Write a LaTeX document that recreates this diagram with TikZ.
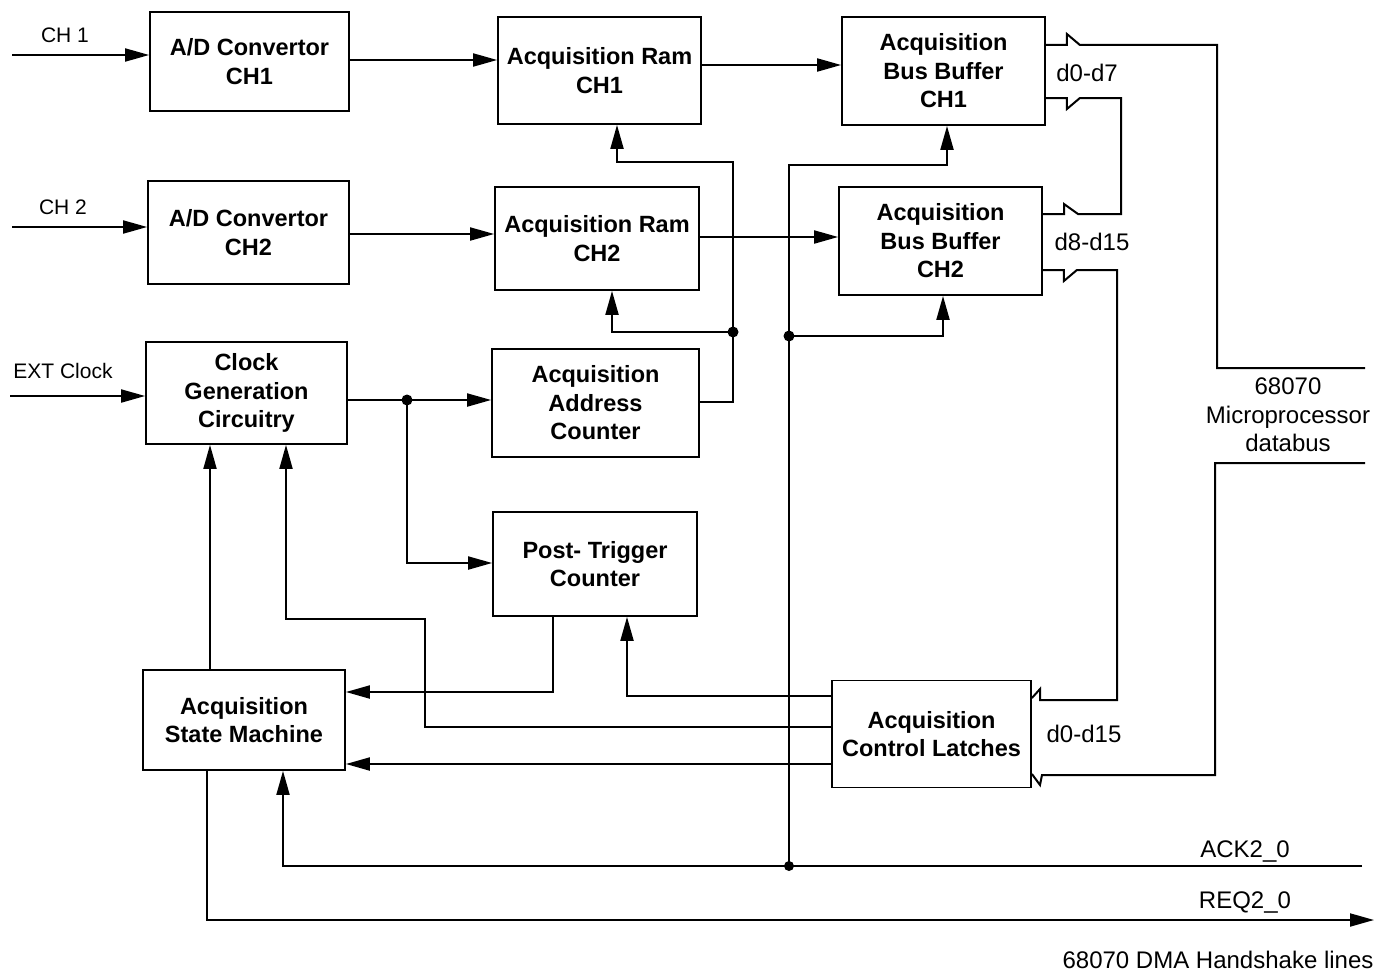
\documentclass[tikz,border=0pt]{standalone}
\usepackage{fontspec}
\setmainfont{Liberation Sans}
\usetikzlibrary{arrows.meta}
\begin{document}
\begin{tikzpicture}[x=1pt,y=-1pt,
  blk/.style={draw,line width=1.8pt,rectangle,inner sep=0pt,align=center,
    font=\bfseries\fontsize{23.5}{28.5}\selectfont},
  wire/.style={line width=2pt},
  arr/.style={wire,-{Triangle[length=24pt,width=13pt]}},
  lbl/.style={font=\fontsize{24}{28.5}\selectfont,inner sep=0pt,align=center},
  slbl/.style={font=\fontsize{21}{26}\selectfont,inner sep=0pt,align=center},
  jdot/.style={circle,fill,inner sep=0pt,minimum size=11pt}]
\useasboundingbox (0,0) rectangle (1389,974);
% blocks
\node[blk,minimum width=199pt,minimum height=99pt]  (AD1)   at (249.5,61.5) {A/D Convertor\\CH1};
\node[blk,minimum width=201pt,minimum height=103pt] (AD2)   at (248.5,232.5) {A/D Convertor\\CH2};
\node[blk,minimum width=201pt,minimum height=102pt] (Clock) at (246.5,393) {Clock\\Generation\\Circuitry};
\node[blk,minimum width=203pt,minimum height=107pt] (RAM1)  at (599.5,70.5) {Acquisition Ram\\CH1};
\node[blk,minimum width=204pt,minimum height=103pt] (RAM2)  at (597,238.5) {Acquisition Ram\\CH2};
\node[blk,minimum width=207pt,minimum height=108pt] (Addr)  at (595.5,403) {Acquisition\\Address\\Counter};
\node[blk,minimum width=204pt,minimum height=104pt] (Post)  at (595,564) {Post- Trigger\\Counter};
\node[blk,minimum width=203pt,minimum height=108pt] (BB1)   at (943.5,71) {Acquisition\\Bus Buffer\\CH1};
\node[blk,minimum width=203pt,minimum height=108pt] (BB2)   at (940.5,241) {Acquisition\\Bus Buffer\\CH2};
\node[blk,minimum width=202pt,minimum height=100pt] (ASM)   at (244,720) {Acquisition\\State Machine};
\node[blk,minimum width=199pt,minimum height=107pt] (ACL)   at (931.5,734) {Acquisition\\Control Latches};
% input labels
\node[slbl] (lch1) at (65,35) {CH 1};
\node[slbl] (lch2) at (63,207) {CH 2};
\node[slbl] (lext) at (63,371) {EXT Clock};
\coordinate (c1) at (12,55);
\coordinate (c2) at (12,227);
\coordinate (c3) at (10,396);
\draw[arr] (c1) -- (c1 -| AD1.west);
\draw[arr] (c2) -- (c2 -| AD2.west);
\draw[arr] (c3) -- (c3 -| Clock.west);
% data path
\draw[arr] (AD1.east |- 0,60) -- (RAM1.west |- 0,60);
\draw[arr] (AD2.east |- 0,234) -- (RAM2.west |- 0,234);
\draw[arr] (RAM1.east |- 0,65) -- (BB1.west |- 0,65);
\draw[arr] (RAM2.east |- 0,237) -- (BB2.west |- 0,237);
% clock distribution
\coordinate (d1) at (407,400);
\draw[wire] (Clock.east |- d1) -- (d1);
\draw[arr] (d1) -- (d1 -| Addr.west);
\draw[arr] (d1) |- (Post.west |- 0,563);
\node[jdot] at (d1) {};
% address counter
\coordinate (d2) at (733,332);
\draw[arr] (Addr.east |- 0,402) -| (733,162) -| (RAM1.south -| 617,0);
\draw[arr] (d2) -| (RAM2.south -| 612,0);
\node[jdot] at (d2) {};
% bus control line
\coordinate (d3) at (789,336);
\coordinate (d4) at (789,866);
\draw[arr] (d4) -- (789,165) -| (BB1.south -| 947,0);
\draw[arr] (d3) -| (BB2.south -| 943,0);
\node[jdot] at (d3) {};
% state machine connections
\draw[arr] (1362,866) -| (ASM.south -| 283,0);
\node[jdot,minimum size=10pt] at (d4) {};
\draw[arr] (ASM.south -| 207,0) |- (1374,920);
\draw[arr] (ASM.north -| 210,0) -- (Clock.south -| 210,0);
\draw[arr] (ACL.west |- 0,727) -| (425,619) -| (Clock.south -| 286,0);
\draw[arr] (Post.south -| 553,0) |- (ASM.east |- 0,692);
\draw[arr] (ACL.west |- 0,696) -| (Post.south -| 627,0);
\draw[arr] (ACL.west |- 0,764) -- (ASM.east |- 0,764);
% data bus lines
\draw[wire] (BB1.east |- 0,45) -- ++(21,0) -- ++(0,-11) -- ++(13,11) -- (1217,45) -- (1217,368) -- (1365,368);
\draw[wire] (BB1.east |- 0,98) -- ++(21,0) -- ++(0,11) -- ++(13,-11) -- (1121,98) -- (1121,214) -- (1078,214) -- (1064,204) -- (1064,214) -- (BB2.east |- 0,214);
\draw[wire] (BB2.east |- 0,270) -- ++(21,0) -- ++(0,11) -- ++(13,-11) -- (1117,270) -- (1117,700) -- (1040,700) -- (1040,689) -- (ACL.east |- 0,698);
\draw[wire] (1365,463) -- (1215,463) -- (1215,775) -- (1042,775) -- (1040,785) -- (ACL.east |- 0,774);
% labels
\node[lbl] (ld07) at (1087,73) {d0-d7};
\node[lbl] (ld815) at (1092,242) {d8-d15};
\node[lbl] (ld015) at (1084,734) {d0-d15};
\node[lbl] (lbus) at (1288,415) {68070\\Microprocessor\\databus};
\node[lbl] (lack) at (1245,851) {ACK2\_0};
\node[lbl] (lreq) at (1245,902) {REQ2\_0};
\node[lbl] (ldma) at (1218,960) {68070 DMA Handshake lines};
\end{tikzpicture}
\end{document}
